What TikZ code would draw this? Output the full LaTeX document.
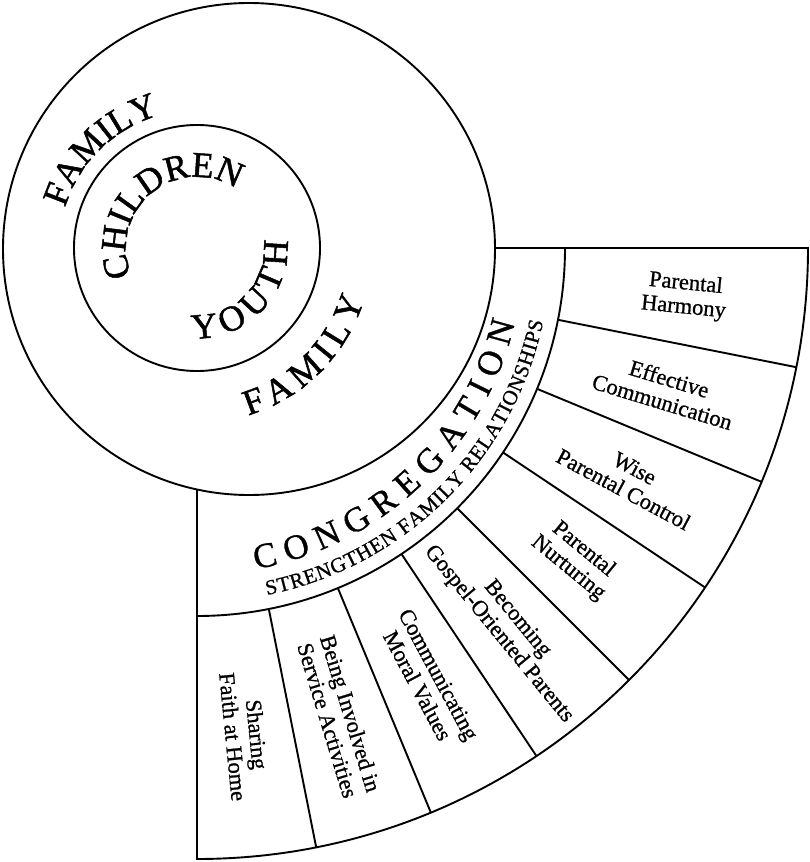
\documentclass[tikz,border=0pt]{standalone}
\usepackage{fontspec}
\setmainfont{Liberation Serif}[FakeBold=0.9]
\newfontfamily\ringfamily{Liberation Serif}[FakeBold=1.3]
\usepackage{tikz}
\usetikzlibrary{decorations.text}
\newcommand{\ringfont}{\ringfamily\fontsize{36}{36}\selectfont}
\newcommand{\churchfont}{\fontsize{35}{35}\selectfont}
\newcommand{\bandfont}{\fontsize{21}{21}\selectfont}
\tikzset{wheel/.style = {line width=1.9pt},
         seglabel/.style = {align=center, font=\fontsize{22.5}{24}\selectfont, inner sep=0pt},
         bentext/.style = {decorate,
                           decoration={text along path, text align=fit to path, text={#1}}}}

\begin{document}
\begin{tikzpicture}[x=1pt, y=1pt]
    \useasboundingbox (-197, -614) rectangle (612, 248);
    \draw [wheel] (52, -1) circle [radius=246];
    \draw [wheel] (0, 0) circle [radius=123];
    \draw [wheel] (0, -241.4) -- (0, -611) arc [start angle=-90, end angle=0, radius=611] -- (298, 0);
    \draw [wheel] (0, -368) arc [start angle=-90, end angle=0, radius=368];
    \foreach \k in {1,...,7}
      \draw [wheel] ({-11.25*\k}:368) -- ({-11.25*\k}:611);
    \foreach \txt [count=\i] in {{Parental\\Harmony}, {Effective\\Communication},
                                 {Wise\\Parental Control}, {Parental\\Nurturing},
                                 {Becoming\\Gospel-Oriented Parents}, {Communicating\\Moral Values},
                                 {Being Involved in\\Service Activities}, {Sharing\\Faith at Home}}
      \node [seglabel, rotate={-11.25*(\i-0.5)}] (seg\i) at ({-11.25*(\i-0.5)}:490) {\txt};
    \path [bentext={|\ringfont|FAMILY}] (163:138) arc [start angle=163, end angle=106, radius=138];
    \path [bentext={|\ringfont|CHILDREN}] (203:71) arc [start angle=203, end angle=66, radius=71];
    \path [bentext={|\ringfont|YOUTH}] (-93:90.5) arc [start angle=-93, end angle=4.7, radius=90.5];
    \path [bentext={|\ringfont|FAMILY}] (-73:175) arc [start angle=-73, end angle=-17.3, radius=175];
    \path [bentext={|\churchfont|CONGREGATION}] (-79.6:326.5) arc [start angle=-79.6, end angle=-13.2, radius=326.5];
    \path [bentext={|\bandfont|STRENGTHEN FAMILY RELATIONSHIPS}] (-78.6:354) arc [start angle=-78.6, end angle=-12, radius=354];
\end{tikzpicture}
\end{document}
